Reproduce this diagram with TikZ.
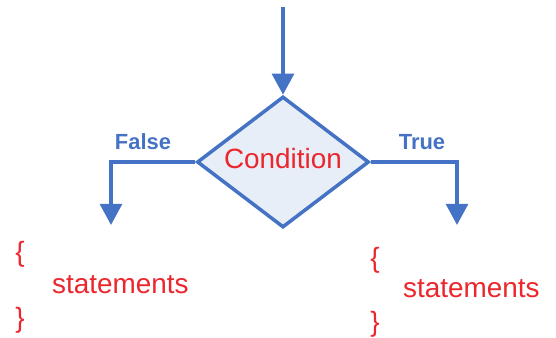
\documentclass[tikz,border=0pt]{standalone}
\usepackage{fontspec}
\setmainfont{Liberation Sans}
\usetikzlibrary{shapes.geometric,arrows.meta}
\definecolor{flowblue}{RGB}{68,114,196}
\definecolor{flowfill}{RGB}{232,238,247}
\definecolor{flowred}{RGB}{235,38,45}

\begin{document}
\begin{tikzpicture}[x=0.03cm, y=-0.03cm,
    flow/.style={flowblue, line width=3.4pt, -{Triangle[width=18.5pt,length=18pt]}},
    cond/.style={diamond, draw=flowblue, fill=flowfill, line width=3pt, aspect=1.3,
        inner sep=0pt, minimum width=5.16cm, minimum height=3.93cm,
        text=flowred, font=\fontsize{23.8}{28}\selectfont, text depth=7pt},
    branch/.style={text=flowblue, font=\bfseries\fontsize{18.7}{22}\selectfont},
    stmt/.style={text=flowred, inner sep=0pt, font=\fontsize{23.8}{28}\selectfont}]
\useasboundingbox (0,0) rectangle (556,338);

% Decision
\node[cond] (cond) at (283,162) {Condition};
\coordinate (entry) at (283,7);
\coordinate (falsetip) at (111,225);
\coordinate (truetip) at (457,225);

% Arrows
\draw[flow] (entry) -- (cond.north);
\draw[flow] (cond.west) -| (falsetip);
\draw[flow] (cond.east) -| (truetip);

% Labels
\node[branch] (false) at (143,142) {False};
\node[branch] (true) at (422,142) {True};

% False block
\node[stmt] (fopen) at (20,254) {\{};
\node[stmt, anchor=base west] (fstmt) at (52,293) {statements};
\node[stmt] (fclose) at (20,320) {\}};

% True block
\node[stmt] (topen) at (375,260) {\{};
\node[stmt, anchor=base west] (tstmt) at (403,297) {statements};
\node[stmt] (tclose) at (375,324) {\}};
\end{tikzpicture}
\end{document}
